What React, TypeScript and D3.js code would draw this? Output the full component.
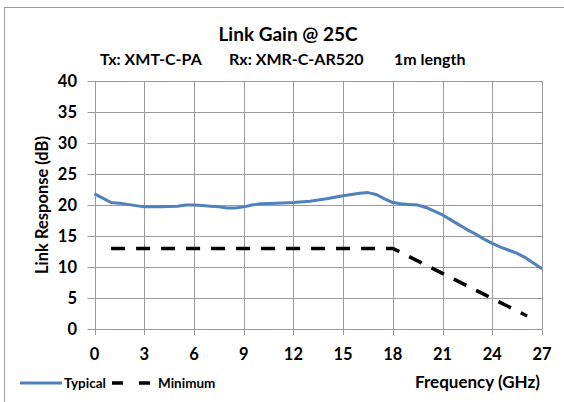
import React from "react";
import * as d3 from "d3";

// Frequency (GHz) and typical link response (dB)
const freqTypical = [0, 0.5, 1, 1.5, 2, 2.5, 3, 4, 5, 5.5, 6, 6.5, 7, 7.5, 8, 8.5, 9, 9.5, 10, 11, 12, 13, 14, 15, 15.5, 16, 16.5, 17, 17.5, 18, 18.5, 19, 19.5, 20, 20.5, 21, 21.5, 22, 22.5, 23, 23.5, 24, 24.5, 25, 25.5, 26, 26.5, 27];
const typical = [21.8, 21.1, 20.4, 20.3, 20.1, 19.9, 19.7, 19.7, 19.8, 20.0, 20.0, 19.9, 19.8, 19.7, 19.5, 19.5, 19.7, 20.0, 20.2, 20.3, 20.4, 20.6, 21.0, 21.5, 21.7, 21.9, 22.0, 21.7, 21.0, 20.4, 20.2, 20.1, 20.0, 19.6, 19.0, 18.4, 17.6, 16.8, 16.0, 15.3, 14.5, 13.8, 13.2, 12.7, 12.2, 11.5, 10.6, 9.7];

const freqMinimum = [1, 18, 26.1];
const minimum = [13, 13, 2.1];

const xTicks = [0, 3, 6, 9, 12, 15, 18, 21, 24, 27];
const yTicks = [0, 5, 10, 15, 20, 25, 30, 35, 40];

const width = 564;
const height = 402;
const margin = { top: 81, right: 22, bottom: 73, left: 94.5 };
const font = "Lato, 'Open Sans', sans-serif";

const App: React.FC = () => {
  const x = d3
    .scaleLinear()
    .domain([0, 27])
    .range([margin.left, width - margin.right]);
  const y = d3
    .scaleLinear()
    .domain([0, 40])
    .range([height - margin.bottom, margin.top]);

  const line = d3
    .line<[number, number]>()
    .x((d) => x(d[0]))
    .y((d) => y(d[1]));

  const typData = freqTypical.map((f, i) => [f, typical[i]] as [number, number]);
  const minData = freqMinimum.map((f, i) => [f, minimum[i]] as [number, number]);

  const x0 = x(0);
  const y0 = y(0);

  return (
    <svg width={width} height={height} style={{ position: "absolute", left: 0, top: 0 }}>
      <rect x={0} y={0} width={width} height={height} fill="#fff" />
      <rect x={4.5} y={7.5} width={width} height={height} fill="none" stroke="#9a9a9a" strokeWidth={1} />

      <text x={288} y={41} textAnchor="middle" fontFamily={font} fontWeight="bold" fontSize={19}>
        Link Gain @ 25C
      </text>
      <g fontFamily={font} fontWeight="bold" fontSize={16}>
        <text x={100} y={65}>Tx: XMT-C-PA</text>
        <text x={229} y={65}>Rx: XMR-C-AR520</text>
        <text x={394} y={65}>1m length</text>
      </g>

      {/* grid */}
      <g stroke="#9a9a9a" strokeWidth={1}>
        {yTicks.map((t) => (
          <line key={"gy" + t} x1={x0 - 7} x2={x(27)} y1={Math.round(y(t)) + 0.5} y2={Math.round(y(t)) + 0.5} />
        ))}
        {xTicks.map((t) => (
          <line key={"gx" + t} x1={Math.round(x(t)) + 0.5} x2={Math.round(x(t)) + 0.5} y1={y(40)} y2={y0 + 6} />
        ))}
      </g>

      {/* tick labels */}
      <g fontFamily={font} fontWeight="bold" fontSize={16.5} fill="#000">
        {yTicks.map((t) => (
          <text key={"ly" + t} x={77} y={y(t) + 6} textAnchor="end">
            {t}
          </text>
        ))}
        {xTicks.map((t) => (
          <text key={"lx" + t} x={x(t)} y={360} textAnchor="middle">
            {t}
          </text>
        ))}
      </g>

      <text
        transform={`translate(48,${y(20)}) rotate(-90)`}
        textAnchor="middle"
        fontFamily={font}
        fontWeight="bold"
        fontSize={16.5}
      >
        Link Response (dB)
      </text>
      <text x={540} y={388} textAnchor="end" fontFamily={font} fontWeight="bold" fontSize={17}>
        Frequency (GHz)
      </text>

      <path d={line(minData) ?? ""} fill="none" stroke="#000" strokeWidth={3.5} strokeDasharray="14,11" />
      <path d={line(typData) ?? ""} fill="none" stroke="#4f81bd" strokeWidth={3} strokeLinejoin="round" />

      {/* legend */}
      <line x1={20} x2={62} y1={383} y2={383} stroke="#4f81bd" strokeWidth={3} />
      <text x={64} y={388} fontFamily={font} fontWeight="bold" fontSize={13.5}>
        Typical
      </text>
      <line x1={112} x2={150} y1={383} y2={383} stroke="#000" strokeWidth={3.5} strokeDasharray="11,16" />
      <text x={158} y={388} fontFamily={font} fontWeight="bold" fontSize={13.5}>
        Minimum
      </text>
    </svg>
  );
};

export default App;
